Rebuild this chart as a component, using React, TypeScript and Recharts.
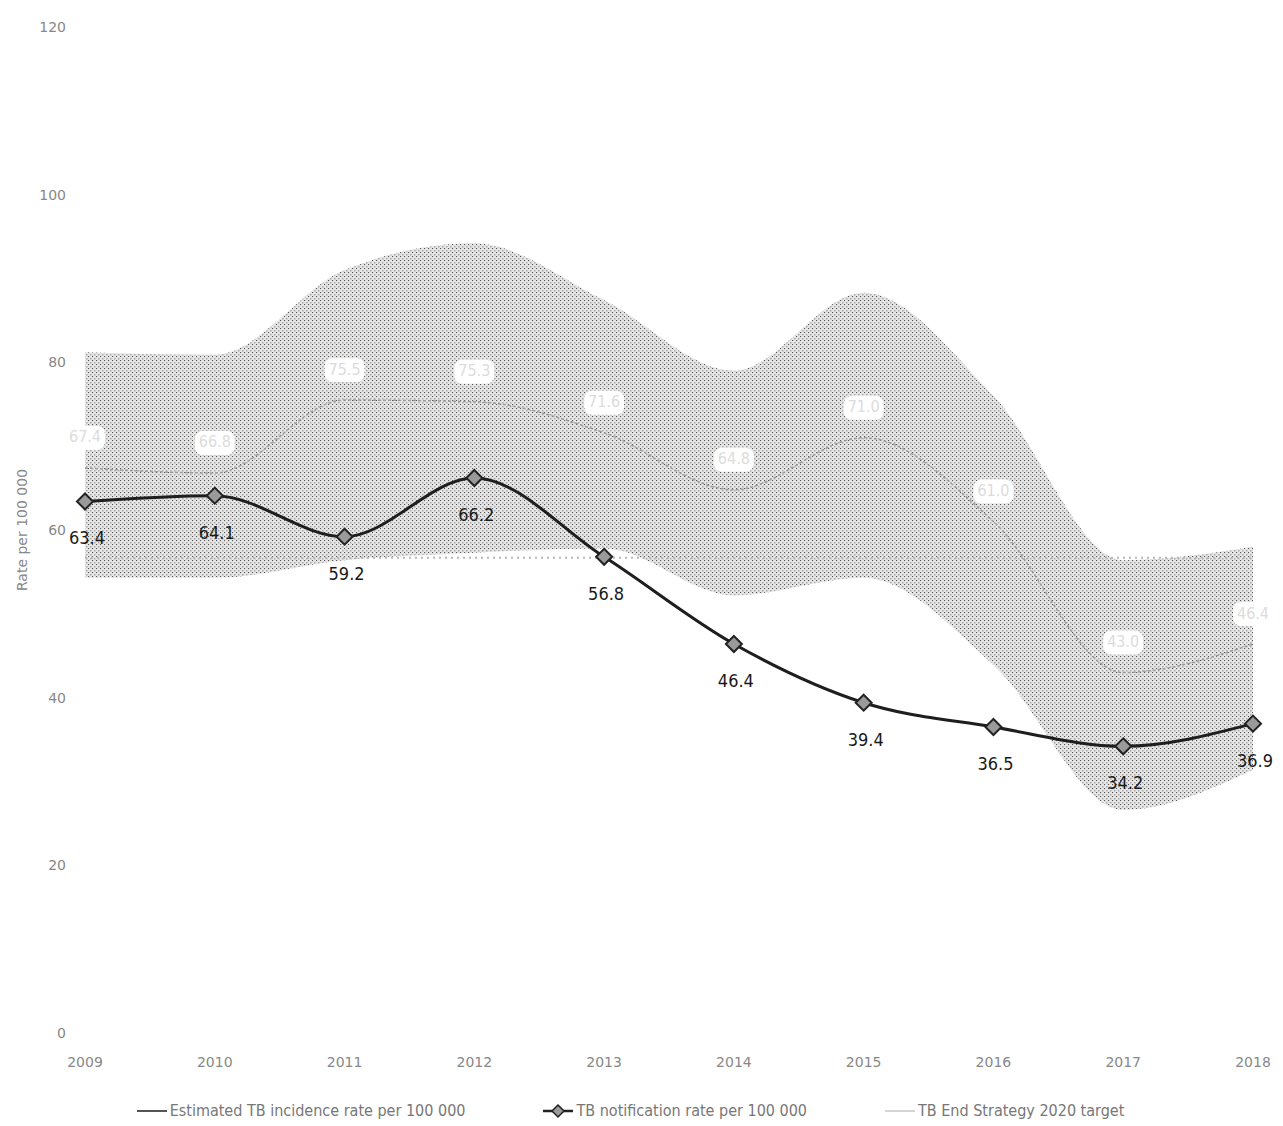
import {
  Area,
  ComposedChart,
  Legend,
  Line,
  XAxis,
  YAxis,
} from "recharts";

const years = ["2009", "2010", "2011", "2012", "2013", "2014", "2015", "2016", "2017", "2018"];
const estimatedRate = [67.4, 66.8, 75.5, 75.3, 71.6, 64.8, 71.0, 61.0, 43.0, 46.4];
const estimatedLow = [54.3, 54.3, 56.4, 57.3, 57.8, 52.2, 54.3, 43.9, 26.6, 31.4];
const estimatedHigh = [81.2, 80.9, 91.0, 94.2, 87.4, 79.0, 88.3, 76.0, 56.4, 58.0];
const notificationRate = [63.4, 64.1, 59.2, 66.2, 56.8, 46.4, 39.4, 36.5, 34.2, 36.9];
const target2020 = [56.7, 56.7, 56.7, 56.7, 56.7, 56.7, 56.7, 56.7, 56.7, 56.7];
const yTicks = [0, 20, 40, 60, 80, 100, 120];

const legendItems = [
  { label: "Estimated TB incidence rate per 100 000", kind: "solid" },
  { label: "TB notification rate per 100 000", kind: "diamond" },
  { label: "TB End Strategy 2020 target", kind: "thin" },
];

const chartData = years.map((y, i) => ({
  year: y,
  range: [estimatedLow[i], estimatedHigh[i]],
  estimated: estimatedRate[i],
  notified: notificationRate[i],
  target: target2020[i],
}));

const labelFont = "'DejaVu Sans', sans-serif";

const Diamond = (props: any) => {
  const { cx, cy } = props;
  if (cx == null || cy == null) return null;
  const r = 8;
  return (
    <path
      d={`M${cx},${cy - r} L${cx + r},${cy} L${cx},${cy + r} L${cx - r},${cy} Z`}
      fill="#9a9a9a"
      stroke="#222"
      strokeWidth={2}
    />
  );
};

const NotifiedLabel = (props: any) => {
  const { x, y, value } = props;
  return (
    <text
      x={x + 2}
      y={y + 38}
      textAnchor="middle"
      dominantBaseline="middle"
      fontFamily={labelFont}
      fontSize={18}
      fill="#1a1a1a"
      style={{ fontStretch: "condensed" }}
    >
      {Number(value).toFixed(1)}
    </text>
  );
};

const EstimatedLabel = (props: any) => {
  const { x, y, value } = props;
  return (
    <g>
      <rect x={x - 20} y={y - 42} width={40} height={24} fill="#ffffff" rx={8} />
      <text
        x={x}
        y={y - 30}
        textAnchor="middle"
        dominantBaseline="middle"
        fontFamily={labelFont}
        fontSize={16}
        fill="#dcdcdc"
        style={{ fontStretch: "condensed" }}
      >
        {Number(value).toFixed(1)}
      </text>
    </g>
  );
};

const LegendContent = () => (
  <div
    style={{
      display: "flex",
      justifyContent: "center",
      gap: 78,
      fontFamily: labelFont,
      fontStretch: "condensed",
      fontSize: 16,
      color: "#777",
      height: 44,
      alignItems: "flex-end",
      paddingBottom: 2,
      boxSizing: "border-box",
    }}
  >
    {legendItems.map((it) => (
      <div key={it.label} style={{ display: "flex", alignItems: "center", gap: 3 }}>
        <svg width={30} height={16}>
          {it.kind === "solid" && <line x1={0} y1={8} x2={30} y2={8} stroke="#555" strokeWidth={2} />}
          {it.kind === "diamond" && (
            <g>
              <line x1={0} y1={8} x2={30} y2={8} stroke="#222" strokeWidth={2.5} />
              <path d="M15,2 L21,8 L15,14 L9,8 Z" fill="#9a9a9a" stroke="#222" strokeWidth={1.5} />
            </g>
          )}
          {it.kind === "thin" && <line x1={0} y1={8} x2={30} y2={8} stroke="#aaa" strokeWidth={1} />}
        </svg>
        <span>{it.label}</span>
      </div>
    ))}
  </div>
);

export default function App() {
  return (
    <ComposedChart
      width={1275}
      height={1118}
      data={chartData}
      margin={{ top: 19, right: 30, left: 0, bottom: 4 }}
    >
      <defs>
        <pattern id="stipple" width={4} height={4} patternUnits="userSpaceOnUse">
          <rect width={4} height={4} fill="#e6e6e6" />
          <rect x={0} y={0} width={1.1} height={1.1} fill="#555" />
          <rect x={2} y={2} width={1.5} height={1.5} fill="#aaaaaa" />
        </pattern>
      </defs>
      <XAxis
        dataKey="year"
        scale="point"
        padding={{ left: 0, right: 0 }}
        axisLine={false}
        tickLine={false}
        tickSize={0}
        tickMargin={24}
        height={45}
        tick={{ fontSize: 14, fill: "#888", fontFamily: labelFont }}
      />
      <YAxis
        domain={[0, 120]}
        ticks={yTicks}
        axisLine={false}
        tickLine={false}
        tickSize={0}
        tickMargin={19}
        width={77}
        tick={{ fontSize: 14, fill: "#888", fontFamily: labelFont }}
        label={{
          value: "Rate per 100 000",
          angle: -90,
          position: "insideLeft",
          offset: 14,
          style: { textAnchor: "middle", fontSize: 14, fill: "#888", fontFamily: labelFont },
        }}
      />
      <Area
        type="monotone"
        dataKey="range"
        stroke="none"
        fill="url(#stipple)"
        fillOpacity={1}
        isAnimationActive={false}
        legendType="none"
      />
      <Line
        type="monotone"
        dataKey="target"
        stroke="#b8b8b8"
        strokeWidth={2}
        strokeDasharray="2 4"
        dot={false}
        isAnimationActive={false}
      />
      <Line
        type="monotone"
        dataKey="estimated"
        stroke="#9c9c9c"
        strokeWidth={1.5}
        strokeDasharray="3 2"
        dot={false}
        label={<EstimatedLabel />}
        isAnimationActive={false}
      />
      <Line
        type="monotone"
        dataKey="notified"
        stroke="#1e1e1e"
        strokeWidth={3}
        dot={<Diamond />}
        label={<NotifiedLabel />}
        isAnimationActive={false}
      />
      <Legend verticalAlign="bottom" height={44} content={<LegendContent />} />
    </ComposedChart>
  );
}
